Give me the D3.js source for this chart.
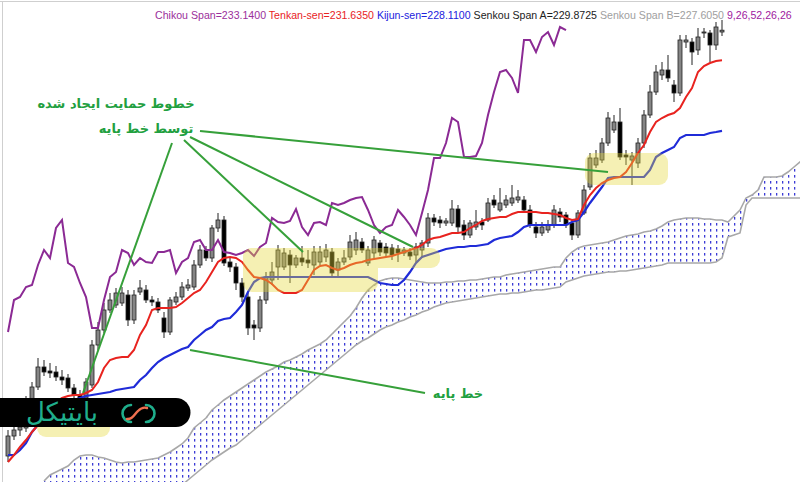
<!DOCTYPE html>
<html>
<head>
<meta charset="utf-8">
<script src="https://cdnjs.cloudflare.com/ajax/libs/d3/7.8.5/d3.min.js"></script>
<style>
  body { margin: 0; background: #fff; }
  svg { display: block; }
</style>
</head>
<body>
<div id="chart"></div>
<script>
// daily bars, oldest first
var opens = [211.85,212.85,213.15,213.25,214.65,215.30,216.30,216.10,216.05,215.80,
  215.75,215.25,214.90,214.75,215.40,217.40,218.15,219.15,219.40,219.50,
  219.90,218.65,220.05,220.15,219.65,219.55,218.75,218.05,219.55,219.80,
  220.25,220.30,221.40,222.15,221.75,223.25,223.65,221.55,221.30,220.50,
  219.80,218.40,218.25,219.65,220.65,221.30,221.30,221.90,221.40,221.75,
  221.65,221.40,221.55,221.80,222.05,221.15,221.55,221.80,222.15,222.55,
  221.50,222.00,222.50,222.30,222.25,222.20,222.00,222.05,221.90,222.15,
  222.50,223.75,223.65,223.50,223.50,224.20,223.40,222.90,223.30,223.55,
  223.65,224.65,224.15,224.40,224.50,224.65,224.65,224.15,223.30,223.00,
  223.15,223.40,224.05,223.90,223.50,222.90,224.00,225.30,226.40,226.65,
  227.50,228.15,228.55,226.90,226.65,226.50,227.50,228.90,230.05,230.90,
  231.15,230.40,230.00,232.55,232.55,232.15,233.00,233.00,232.40,233.05];
var closes = [212.85,213.15,213.30,214.65,215.30,216.30,216.05,216.00,215.80,215.65,
  215.25,214.90,214.75,215.55,217.40,218.15,219.15,219.65,220.00,220.00,
  218.65,219.90,220.25,219.65,219.55,219.15,218.05,219.65,219.80,220.30,
  220.40,221.40,222.15,221.75,223.25,223.65,221.50,221.30,220.50,219.80,
  218.25,218.25,219.65,220.80,221.05,222.15,222.00,221.40,221.75,221.55,
  221.50,222.05,222.05,222.15,221.00,221.55,221.75,222.55,222.65,222.15,
  222.15,222.65,222.05,222.00,221.90,222.00,222.15,221.85,222.30,222.50,
  223.75,223.55,223.50,223.60,224.20,223.30,222.90,223.50,223.55,223.40,
  224.50,224.40,224.50,224.65,224.75,224.80,224.15,223.40,223.00,223.30,
  223.40,224.15,223.80,223.40,222.90,224.00,225.15,226.75,226.75,227.50,
  228.75,228.55,226.80,226.80,226.85,227.50,228.90,230.05,231.05,231.15,
  230.75,230.00,232.65,232.65,232.05,232.80,233.05,232.40,233.30,233.14];
var highs = [213.15,213.40,213.55,214.85,215.55,216.75,216.65,216.50,216.35,216.15,
  215.95,215.45,215.15,215.75,217.65,218.55,219.50,220.00,220.25,220.30,
  220.15,220.15,220.65,220.40,219.85,219.75,219.05,219.80,220.05,220.55,
  220.70,221.65,222.40,222.35,223.40,224.00,223.85,221.75,221.50,220.75,
  220.00,218.65,219.85,221.05,221.55,222.40,222.25,222.15,221.90,222.35,
  222.15,222.35,222.35,222.45,222.25,221.75,222.15,222.90,223.05,222.75,
  222.35,222.85,222.65,222.50,222.45,222.40,222.30,222.25,222.50,222.65,
  224.00,223.95,223.85,223.75,224.65,224.40,223.65,223.65,224.15,223.75,
  224.75,224.90,225.25,224.90,225.40,225.15,224.85,224.40,223.55,223.55,
  223.65,224.40,224.25,224.05,223.65,224.15,225.40,227.00,227.15,227.75,
  229.05,228.90,229.25,227.15,227.05,227.75,229.15,230.40,231.40,231.55,
  231.90,230.65,232.90,232.90,232.75,233.25,233.25,233.15,233.55,233.65];
var lows = [211.55,212.65,212.85,213.05,214.50,215.15,215.85,215.75,215.60,215.40,
  215.05,214.65,214.40,214.55,215.25,217.15,218.00,219.00,219.25,219.35,
  218.35,218.45,219.90,219.50,219.35,219.00,217.75,217.90,219.40,219.65,
  220.10,220.15,221.25,221.60,221.55,223.05,221.35,221.05,220.15,219.55,
  217.90,217.65,218.05,219.45,220.40,220.65,221.15,220.50,221.25,221.35,
  221.25,220.90,221.40,221.55,220.75,220.85,221.40,221.65,221.90,222.00,
  221.35,221.75,221.85,221.80,221.65,221.55,221.85,221.65,221.55,221.75,
  222.30,223.35,223.25,223.35,223.35,223.05,222.65,222.75,223.15,223.15,
  223.55,224.25,224.05,224.25,224.35,224.50,224.00,223.25,222.75,222.85,
  223.00,223.25,223.55,223.25,222.65,222.75,223.90,225.15,226.25,226.50,
  227.35,228.00,226.65,226.40,225.40,226.25,227.25,228.75,229.90,230.65,
  230.55,229.55,229.85,232.25,231.40,231.90,232.75,231.55,232.15,232.85];

// Ichimoku lines (9,26,52,26,26)
var tenkan = [211.55,211.90,212.30,212.65,213.05,213.40,213.75,214.15,214.55,214.75,
  214.85,214.90,214.90,215.00,215.15,215.55,216.25,216.65,216.75,216.80,
  216.80,217.15,217.90,218.40,219.15,219.25,219.25,219.25,219.30,219.50,
  219.75,220.00,220.15,220.55,221.05,221.55,221.75,221.80,221.75,221.55,
  221.15,220.80,220.75,220.65,220.45,220.15,220.00,220.00,220.00,220.15,
  220.65,221.15,221.35,221.40,221.25,221.15,221.25,221.40,221.50,221.55,
  221.65,221.70,221.75,221.80,221.85,221.95,222.05,222.15,222.25,222.40,
  222.65,222.75,222.80,222.90,223.00,223.00,223.05,223.25,223.40,223.60,
  223.70,223.75,223.80,223.80,223.95,224.05,224.05,224.05,224.05,224.00,
  224.00,223.95,223.90,223.75,223.65,223.70,224.40,224.90,225.25,225.50,
  225.65,225.75,225.80,226.05,226.50,227.00,227.40,228.05,228.55,228.75,
  228.90,229.00,229.25,229.80,230.25,231.05,231.35,231.50,231.60,231.635];
var kijun = [211.90,211.90,212.15,212.50,213.05,213.40,213.65,213.90,214.15,214.40,
  214.55,214.65,214.75,214.85,214.90,214.95,215.00,215.05,215.15,215.20,
  215.25,215.30,215.65,215.90,216.25,216.55,216.75,216.90,217.05,217.20,
  217.30,217.65,217.90,218.15,218.30,218.60,218.70,218.75,219.05,219.40,
  220.05,220.55,220.75,220.80,220.80,220.80,220.80,220.80,220.80,220.80,
  220.80,220.80,220.80,220.80,220.80,220.80,220.80,220.80,220.80,220.80,
  220.80,220.65,220.50,220.45,220.40,220.40,220.65,221.05,221.50,221.80,
  221.90,222.00,222.10,222.20,222.25,222.30,222.30,222.35,222.35,222.40,
  222.45,222.65,222.75,222.80,222.85,223.05,223.30,223.40,223.40,223.40,
  223.40,223.40,223.40,223.40,223.55,223.65,224.05,224.50,224.90,225.30,
  225.75,225.80,225.80,225.80,225.80,225.80,225.80,226.15,226.80,227.00,
  227.15,227.30,227.75,227.90,227.90,227.90,227.90,228.00,228.05,228.11];

// cloud, already shifted forward; first value sits on bar 6
var cloudStart = 6;
var senkouA = [210.60,210.90,211.05,211.20,211.35,211.65,211.85,211.90,211.90,211.80,
  211.75,211.65,211.55,211.50,211.55,211.55,211.60,211.65,211.70,211.75,
  211.90,212.05,212.25,212.45,212.75,213.25,213.50,213.75,214.15,214.40,
  214.65,214.85,215.05,215.25,215.45,215.65,215.85,216.05,216.20,216.35,
  216.55,216.65,216.80,216.95,217.15,217.30,217.45,217.65,217.95,218.25,
  218.55,218.85,219.25,219.75,220.15,220.40,220.60,220.70,220.75,220.75,
  220.70,220.65,220.60,220.55,220.50,220.50,220.50,220.55,220.55,220.60,
  220.60,220.65,220.65,220.70,220.75,220.80,220.80,220.90,220.95,221.00,
  221.05,221.10,221.15,221.20,221.25,221.30,221.30,221.75,222.05,222.25,
  222.35,222.40,222.45,222.50,222.55,222.65,222.75,222.85,222.90,222.95,
  223.05,223.10,223.20,223.35,223.55,223.65,223.70,223.75,223.75,223.75,
  223.70,223.70,223.65,223.65,223.55,223.85,224.15,224.75,224.90,225.15,
  225.80,225.80,225.80,225.85,226.05,226.30,226.55,226.75];
var senkouB = [208.15,208.20,208.25,208.30,208.35,208.40,208.45,208.50,208.55,208.60,
  208.65,208.70,208.75,208.80,208.90,209.00,209.10,209.20,209.30,209.40,
  209.65,209.90,210.15,210.40,210.65,210.90,211.15,211.40,211.65,211.85,
  212.05,212.25,212.40,212.65,212.90,213.15,213.40,213.65,213.90,214.15,
  214.40,214.65,214.90,215.15,215.40,215.65,215.90,216.15,216.40,216.65,
  216.90,217.15,217.40,217.60,217.75,217.95,218.15,218.30,218.40,218.55,
  218.65,218.80,218.90,219.05,219.15,219.30,219.40,219.50,219.55,219.60,
  219.65,219.70,219.75,219.80,219.85,219.90,219.95,219.95,220.00,220.00,
  220.05,220.10,220.15,220.15,220.20,220.25,220.30,220.55,220.65,220.75,
  220.85,220.90,220.95,221.00,221.05,221.05,221.10,221.10,221.15,221.20,
  221.25,221.30,221.35,221.40,221.50,221.50,221.50,221.50,221.50,221.50,
  221.50,221.50,221.55,221.75,222.80,222.90,223.00,224.40,224.75,224.75,
  224.75,224.75,224.75,224.75,224.75,224.75,224.75,224.75];

var legendItems = [
  {label: "Chikou Span=233.1400", color: "#9b309b"},
  {label: "Tenkan-sen=231.6350", color: "#e8231f"},
  {label: "Kijun-sen=228.1100", color: "#2222dd"},
  {label: "Senkou Span A=229.8725", color: "#222222"},
  {label: "Senkou Span B=227.6050", color: "#a0a0a0"},
  {label: "9,26,52,26,26", color: "#a020a0"}
];

var width = 800, height = 482;

var x = d3.scaleLinear().domain([0, 132]).range([8, 800]);
var y = d3.scaleLinear().domain([210.55, 234.65]).range([height, 0]);

var svg = d3.select("#chart").append("svg")
    .attr("width", width)
    .attr("height", height)
    .style("font-family", "'Liberation Sans', Arial, sans-serif");

var defs = svg.append("defs");
var pat = defs.append("pattern")
    .attr("id", "dots")
    .attr("patternUnits", "userSpaceOnUse")
    .attr("width", 6)
    .attr("height", 6);
pat.append("rect").attr("width", 6).attr("height", 6).attr("fill", "#fff");
pat.append("rect").attr("x", 2).attr("y", 1).attr("width", 1.3).attr("height", 2.6).attr("fill", "#3b3bd6");

defs.append("clipPath").attr("id", "clip")
  .append("rect").attr("x", 3).attr("y", 2).attr("width", width - 3).attr("height", height - 2);

// frame
svg.append("line").attr("x1", 0).attr("x2", width).attr("y1", 1.5).attr("y2", 1.5)
    .attr("stroke", "#cfcfcf");
svg.append("line").attr("x1", 2.5).attr("x2", 2.5).attr("y1", 1.5).attr("y2", height)
    .attr("stroke", "#cfcfcf");

var plot = svg.append("g").attr("clip-path", "url(#clip)");

// cloud
var cloudIdx = d3.range(senkouA.length);
var cx = function(k) { return x(k + cloudStart); };
plot.append("path")
    .datum(cloudIdx)
    .attr("fill", "url(#dots)")
    .attr("d", d3.area().x(cx)
      .y0(function(k) { return y(senkouB[k]); })
      .y1(function(k) { return y(senkouA[k]); }));
[senkouA, senkouB].forEach(function(s) {
  plot.append("path")
      .datum(cloudIdx)
      .attr("fill", "none")
      .attr("stroke", "#a8a8a8")
      .attr("stroke-width", 1.6)
      .attr("d", d3.line().x(cx).y(function(k) { return y(s[k]); }));
});

// candles
var bars = plot.append("g").selectAll("g")
    .data(d3.range(closes.length))
  .enter().append("g");

bars.append("line")
    .attr("x1", function(i) { return x(i); })
    .attr("x2", function(i) { return x(i); })
    .attr("y1", function(i) { return y(highs[i]); })
    .attr("y2", function(i) { return y(lows[i]); })
    .attr("stroke", "#222")
    .attr("stroke-width", 1);

bars.append("rect")
    .attr("x", function(i) { return x(i) - 2; })
    .attr("width", 4)
    .attr("y", function(i) { return y(Math.max(opens[i], closes[i])); })
    .attr("height", function(i) { return Math.max(1, Math.abs(y(opens[i]) - y(closes[i]))); })
    .attr("fill", function(i) { return closes[i] >= opens[i] ? "#858585" : "#000"; })
    .attr("stroke", "#222")
    .attr("stroke-width", 0.8);

// indicator lines
var lineIdx = d3.line()
    .x(function(d, i) { return x(i); })
    .y(function(d) { return y(d); });

plot.append("path").datum(closes.slice(26))
    .attr("fill", "none").attr("stroke", "#8b2a94").attr("stroke-width", 2)
    .attr("d", lineIdx);
plot.append("path").datum(kijun)
    .attr("fill", "none").attr("stroke", "#1f2bd8").attr("stroke-width", 2.2)
    .attr("d", lineIdx);
plot.append("path").datum(tenkan)
    .attr("fill", "none").attr("stroke", "#e8231f").attr("stroke-width", 2)
    .attr("d", lineIdx);

// yellow highlight zones
var hl = svg.append("g").attr("opacity", 0.38);
[[243, 248, 135, 44], [243, 248, 197, 20], [585, 153, 83, 32], [37, 402, 73, 35]].forEach(function(r) {
  hl.append("rect")
      .attr("x", r[0]).attr("y", r[1]).attr("width", r[2]).attr("height", r[3])
      .attr("rx", 9).attr("fill", "#e6d83a");
});

// annotation pointers
var green = "#36a03a";
var pointers = [
  [[172, 143], [83, 393]],
  [[184, 140], [303, 252]],
  [[190, 137], [413, 247]],
  [[200, 131], [608, 172]],
  [[190, 350], [425, 393]]
];
pointers.forEach(function(p) {
  svg.append("line")
      .attr("x1", p[0][0]).attr("y1", p[0][1])
      .attr("x2", p[1][0]).attr("y2", p[1][1])
      .attr("stroke", green).attr("stroke-width", 2);
});

var notes = svg.append("g")
    .style("font-family", "'DejaVu Sans', sans-serif")
    .style("font-size", "13px")
    .style("font-weight", "bold")
    .attr("fill", "#22a040")
    .attr("text-anchor", "middle");
notes.append("text").attr("x", 116).attr("y", 108).text("خطوط حمایت ایجاد شده");
notes.append("text").attr("x", 146).attr("y", 133).text("توسط خط پایه");
notes.append("text").attr("x", 458).attr("y", 398).text("خط پایه");

// legend
var legend = svg.append("text")
    .attr("x", 155)
    .attr("y", 19)
    .style("font-size", "10.6px");
legendItems.forEach(function(d, i) {
  legend.append("tspan")
      .attr("fill", d.color)
      .text((i ? " " : "") + d.label);
});

// logo band
var logo = svg.append("g");
logo.append("path")
    .attr("d", "M0,398 H176 A14.5,14.5 0 0 1 176,427 H0 Z")
    .attr("fill", "#000");
logo.append("text")
    .attr("x", 62).attr("y", 421)
    .attr("text-anchor", "middle")
    .style("font-family", "'DejaVu Sans', sans-serif")
    .style("font-size", "26px")
    .attr("fill", "#1fae8c")
    .text("بایتیکل");
logo.append("path")
    .attr("d", "M131,405 A8.5,8.5 0 1 0 131,422")
    .attr("fill", "none").attr("stroke", "#1fae8c").attr("stroke-width", 2.6).attr("stroke-linecap", "round");
logo.append("path")
    .attr("d", "M146,405 A8.5,8.5 0 1 1 146,422")
    .attr("fill", "none").attr("stroke", "#1fae8c").attr("stroke-width", 2.6).attr("stroke-linecap", "round");
logo.append("path")
    .attr("d", "M127,419 C133,420 135,413 138,411 C141,408 144,407 147,408")
    .attr("fill", "none").attr("stroke", "#f07050").attr("stroke-width", 2.4).attr("stroke-linecap", "round");
</script>
</body>
</html>
